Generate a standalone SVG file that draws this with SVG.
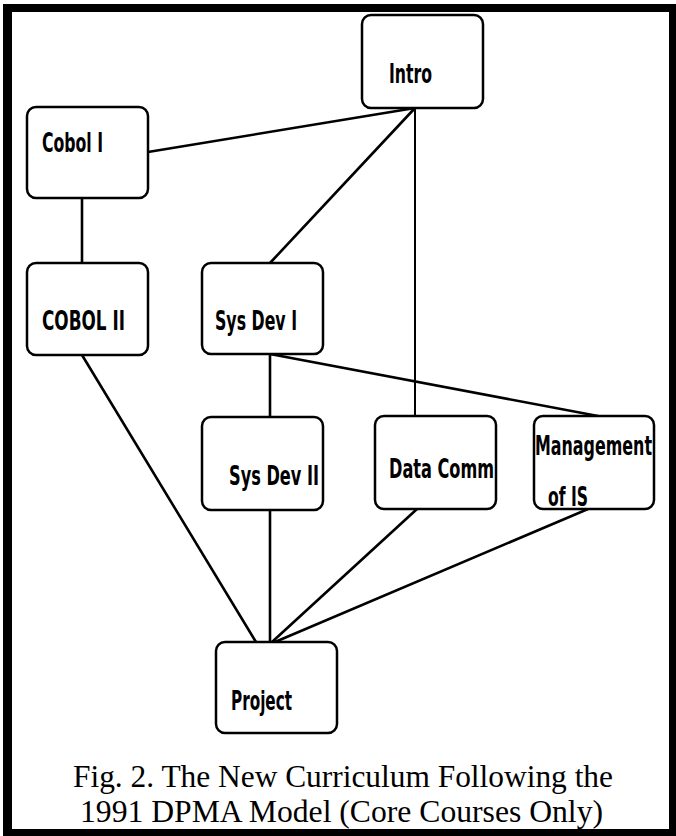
<svg xmlns="http://www.w3.org/2000/svg" width="676" height="836" viewBox="0 0 676 836">
<defs>
<style>
.box{fill:#fff;stroke:#000;stroke-width:2.5}
.lbl{font-family:"Liberation Sans Narrow","DejaVu Sans Condensed","Liberation Sans",sans-serif;font-weight:bold;font-size:27px;fill:#000}
.cap{font-family:"Liberation Serif","Times New Roman",serif;font-size:31px;fill:#000}
.edge{stroke:#000;stroke-width:2.6;fill:none;stroke-linecap:round}
</style>
</defs>
<rect x="0" y="0" width="676" height="836" fill="#fff"/>
<path d="M3 4H676V836H3Z M12 12V829H669V12Z" fill="#000" fill-rule="evenodd"/>
<g id="connectors">
<line class="edge" x1="415" y1="108" x2="148" y2="152"/>
<line class="edge" x1="415" y1="108" x2="270" y2="263"/>
<line class="edge" x1="415" y1="108" x2="415" y2="416" style="stroke-width:2"/>
<line class="edge" x1="82" y1="198" x2="82" y2="263"/>
<line class="edge" x1="270" y1="354" x2="270" y2="417"/>
<line class="edge" x1="270" y1="354" x2="598" y2="416"/>
<line class="edge" x1="82" y1="355" x2="256" y2="642"/>
<line class="edge" x1="270" y1="510" x2="270" y2="642"/>
<line class="edge" x1="417" y1="509" x2="272" y2="642"/>
<line class="edge" x1="588" y1="509" x2="275" y2="642"/>
</g>
<g id="intro"><rect class="box" x="362" y="15" width="121" height="93" rx="9"/><text class="lbl" x="389" y="83" textLength="43" lengthAdjust="spacingAndGlyphs">Intro</text></g>
<g id="cobol1"><rect class="box" x="27" y="107" width="121" height="91" rx="9"/><text class="lbl" x="42" y="152" textLength="61" lengthAdjust="spacingAndGlyphs">Cobol I</text></g>
<g id="cobol2"><rect class="box" x="27" y="263" width="121" height="92" rx="9"/><text class="lbl" x="42" y="330" textLength="83" lengthAdjust="spacingAndGlyphs">COBOL II</text></g>
<g id="sysdev1"><rect class="box" x="202" y="263" width="121" height="91" rx="9"/><text class="lbl" x="215" y="330" textLength="82" lengthAdjust="spacingAndGlyphs">Sys Dev I</text></g>
<g id="sysdev2"><rect class="box" x="202" y="417" width="121" height="93" rx="9"/><text class="lbl" x="229" y="485" textLength="90" lengthAdjust="spacingAndGlyphs">Sys Dev II</text></g>
<g id="datacomm"><rect class="box" x="375" y="416" width="121" height="93" rx="9"/><text class="lbl" x="389" y="478" textLength="105" lengthAdjust="spacingAndGlyphs">Data Comm</text></g>
<g id="mgmt"><rect class="box" x="534" y="416" width="120" height="93" rx="9"/><text class="lbl" x="535" y="455" textLength="117" lengthAdjust="spacingAndGlyphs">Management</text><text class="lbl" x="548" y="506" textLength="40" lengthAdjust="spacingAndGlyphs">of IS</text></g>
<g id="project"><rect class="box" x="216" y="642" width="121" height="91" rx="9"/><text class="lbl" x="231" y="710" textLength="61" lengthAdjust="spacingAndGlyphs">Project</text></g>
<g id="caption">
<text class="cap" x="73" y="787" textLength="540" lengthAdjust="spacingAndGlyphs">Fig. 2. The New Curriculum Following the</text>
<text class="cap" x="80" y="822" textLength="523" lengthAdjust="spacingAndGlyphs">1991 DPMA Model (Core Courses Only)</text>
</g>
</svg>
